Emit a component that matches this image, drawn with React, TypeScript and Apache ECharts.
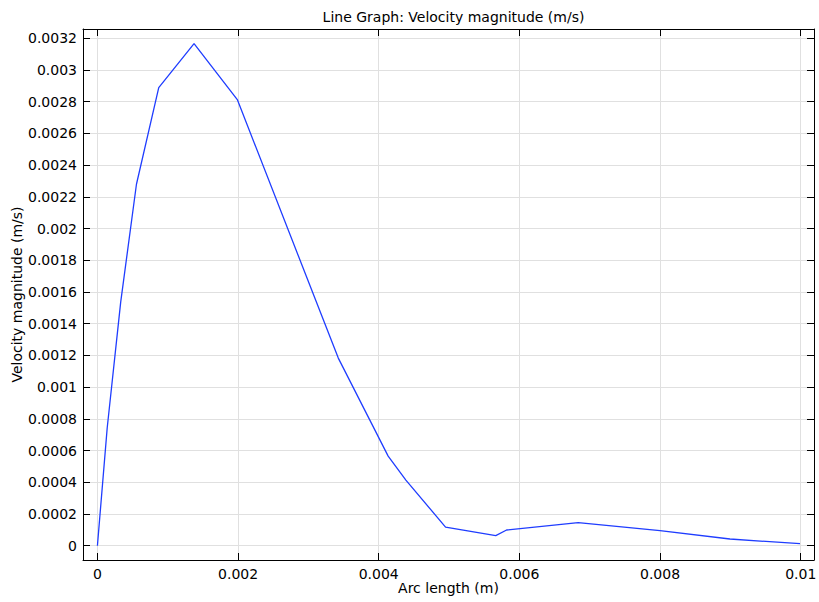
import React, { useEffect, useRef } from "react";
import * as echarts from "echarts";

const arcLength = [
  0, 0.000139, 0.000331, 0.000555, 0.000872, 0.001374, 0.001989, 0.003425,
  0.004134, 0.004386, 0.00495, 0.005664, 0.005818, 0.006836, 0.007999,
  0.008994, 0.00999,
];
const velocity = [
  0, 0.000742, 0.001536, 0.002279, 0.002888, 0.003166, 0.002813, 0.001183,
  0.000565, 0.000414, 0.000117, 0.000064, 0.000099, 0.000145, 0.0000945,
  0.0000422, 0.0000126,
];
const xTicks = [0, 0.002, 0.004, 0.006, 0.008, 0.01];
const yTicks = [
  0, 0.0002, 0.0004, 0.0006, 0.0008, 0.001, 0.0012, 0.0014, 0.0016, 0.0018,
  0.002, 0.0022, 0.0024, 0.0026, 0.0028, 0.003, 0.0032,
];

const X_MIN = -0.000205;
const X_MAX = 0.010189;
const Y_MIN = -0.0000901;
const Y_MAX = 0.003258;

const FONT = "DejaVu Sans";

export default function App() {
  const ref = useRef<HTMLDivElement>(null);
  useEffect(() => {
    if (!ref.current) return;
    const chart = echarts.init(ref.current, undefined, { renderer: "svg" });
    const fmt = (v: number) => {
      const m = [...xTicks, ...yTicks].find((t) => Math.abs(t - v) < 1e-12);
      return String(m !== undefined ? m : v);
    };
    const axisLine = { show: true, onZero: false, lineStyle: { color: "#000", width: 1 } };
    const data = arcLength.map((x, i) => [x, velocity[i]]);
    chart.setOption({
      animation: false,
      backgroundColor: "#fff",
      title: {
        text: "Line Graph: Velocity magnitude (m/s)",
        left: 448.5,
        textAlign: "center",
        top: 5,
        textStyle: { fontFamily: FONT, fontSize: 14, fontWeight: "normal", color: "#000" },
      },
      grid: { left: 83, top: 29, right: 5, bottom: 42, containLabel: false, outerBoundsMode: "none" },
      xAxis: [
        {
          type: "value",
          min: X_MIN,
          max: X_MAX,
          position: "bottom",
          name: "Arc length (m)",
          nameLocation: "middle",
          nameGap: 21,
          nameMoveOverlap: false,
          nameTextStyle: { fontFamily: FONT, fontSize: 14, color: "#000" },
          axisLine,
          axisTick: { show: true, inside: true, length: 7, customValues: xTicks, lineStyle: { color: "#000" } },
          axisLabel: {
            show: true,
            customValues: xTicks,
            margin: 7,
            fontFamily: FONT,
            fontSize: 14,
            color: "#000",
            formatter: fmt,
          },
          splitLine: { show: true, lineStyle: { color: "#e0e0e0", width: 1 } },
        },
        {
          type: "value",
          min: X_MIN,
          max: X_MAX,
          position: "top",
          axisLine,
          axisTick: { show: true, inside: true, length: 7, customValues: xTicks, lineStyle: { color: "#000" } },
          axisLabel: { show: false },
          splitLine: { show: false },
        },
      ],
      yAxis: [
        {
          type: "value",
          min: Y_MIN,
          max: Y_MAX,
          position: "left",
          name: "Velocity magnitude (m/s)",
          nameLocation: "middle",
          nameRotate: 90,
          nameGap: 59,
          nameMoveOverlap: false,
          nameTextStyle: { fontFamily: FONT, fontSize: 14, color: "#000" },
          axisLine,
          axisTick: { show: true, inside: true, length: 7, customValues: yTicks, lineStyle: { color: "#000" } },
          axisLabel: {
            show: true,
            customValues: yTicks,
            margin: 6,
            fontFamily: FONT,
            fontSize: 14,
            color: "#000",
            formatter: fmt,
          },
          splitLine: { show: true, lineStyle: { color: "#e0e0e0", width: 1 } },
        },
        {
          type: "value",
          min: Y_MIN,
          max: Y_MAX,
          position: "right",
          axisLine,
          axisTick: { show: true, inside: true, length: 7, customValues: yTicks, lineStyle: { color: "#000" } },
          axisLabel: { show: false },
          splitLine: { show: false },
        },
      ],
      series: [
        {
          type: "line",
          data,
          xAxisIndex: 0,
          yAxisIndex: 0,
          showSymbol: false,
          symbol: "none",
          lineStyle: { color: "#1f3dff", width: 1.3 },
          clip: true,
        },
      ],
    });
    return () => chart.dispose();
  }, []);
  return (
    <div
      ref={ref}
      style={{ position: "fixed", left: 0, top: 0, width: 819, height: 602 }}
    />
  );
}
